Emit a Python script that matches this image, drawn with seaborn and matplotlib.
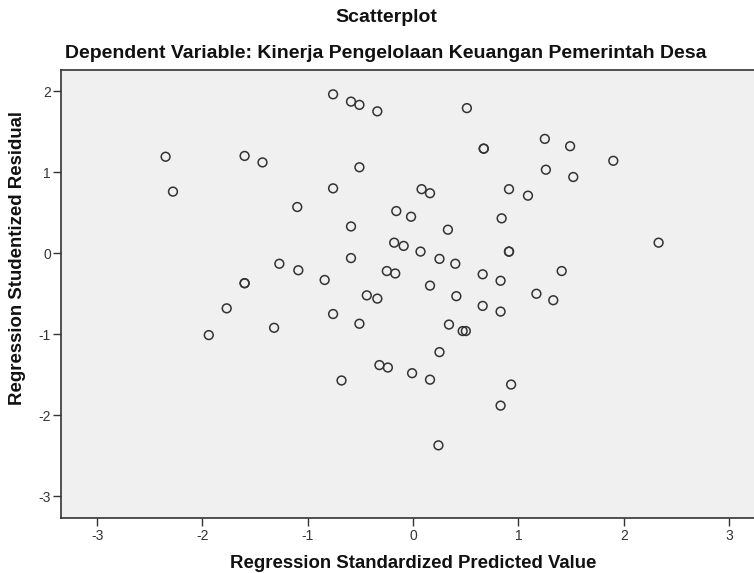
import matplotlib
matplotlib.use("Agg")
import matplotlib.pyplot as plt
import seaborn as sns
import pandas as pd

predicted = [-0.76, -0.59, -0.51, -0.34, -2.35, -1.60, -1.43, -0.51, -2.28, -0.76,
             -1.10, -0.16, -0.02, -0.59, -0.18, -0.09, -0.59, -1.27, -1.09, -0.84,
             -0.25, -0.17, -1.60, -1.60, 0.51, 0.67, 0.67, 1.25, 1.49, 1.90,
             1.26, 1.52, 0.08, 0.16, 0.91, 1.09, 0.84, 0.33, 0.07, 0.91,
             0.91, 2.33, 0.25, 0.40, 0.66, 0.83, 1.41, 0.16, -1.77, -1.94,
             -1.32, -0.44, -0.34, -0.76, -0.51, -0.32, -0.24, -0.68, 0.41, 0.66,
             0.83, 1.17, 1.33, 0.34, 0.47, 0.50, 0.25, -0.01, 0.16, 0.93,
             0.83, 0.24]
residual = [1.96, 1.87, 1.83, 1.75, 1.19, 1.20, 1.12, 1.06, 0.76, 0.80,
            0.57, 0.52, 0.45, 0.33, 0.13, 0.09, -0.06, -0.13, -0.21, -0.33,
            -0.22, -0.25, -0.37, -0.37, 1.79, 1.29, 1.29, 1.41, 1.32, 1.14,
            1.03, 0.94, 0.79, 0.74, 0.79, 0.71, 0.43, 0.29, 0.02, 0.02,
            0.02, 0.13, -0.07, -0.13, -0.26, -0.34, -0.22, -0.40, -0.68, -1.01,
            -0.92, -0.52, -0.56, -0.75, -0.87, -1.38, -1.41, -1.57, -0.53, -0.65,
            -0.72, -0.50, -0.58, -0.88, -0.96, -0.96, -1.22, -1.48, -1.56, -1.62,
            -1.88, -2.37]

xticks = [-3, -2, -1, 0, 1, 2, 3]
yticks = [-3, -2, -1, 0, 1, 2]
title = "Scatterplot"
subtitle = "Dependent Variable: Kinerja Pengelolaan Keuangan Pemerintah Desa"
xlabel = "Regression Standardized Predicted Value"
ylabel = "Regression Studentized Residual"

df = pd.DataFrame({"pred": predicted, "resid": residual})

sns.set_theme(style="white")
plt.rcParams["font.family"] = ["Liberation Sans", "DejaVu Sans"]

fig = plt.figure(figsize=(7.54, 5.73), dpi=100)
L, R, T, B = 61.3, 765.0, 70.0, 518.3
ax = fig.add_axes([L / 754, (573 - B) / 573, (R - L) / 754, (B - T) / 573])
ax.set_facecolor("#F0F0F0")

sns.scatterplot(data=df, x="pred", y="resid", ax=ax, marker="o", s=40,
                facecolor="none", edgecolor="#333333", linewidth=1.1, legend=False)

ax.set_xticks(xticks)
ax.set_yticks(yticks)
ax.set_xticklabels([str(t) for t in xticks])
ax.set_yticklabels([str(t) for t in yticks])
ax.set_xlim(-3.34, 3.34)
ax.set_ylim(-3.27, 2.26)
ax.tick_params(axis="both", which="both", direction="out", length=6, width=1,
               color="#333333", labelsize=10, labelcolor="#333333", pad=1.5,
               bottom=True, left=True)
for sp in ax.spines.values():
    sp.set_color("#333333")
    sp.set_linewidth(1.2)
    sp.set_visible(True)

ax.set_xlabel(xlabel, fontsize=13.4, fontweight="bold", color="#111111")
ax.set_ylabel(ylabel, fontsize=13.4, fontweight="bold", color="#111111")
ax.xaxis.label.set_va("center")
ax.yaxis.label.set_va("center")
ax.xaxis.set_label_coords((413 - L) / (R - L), -(563 - B) / (B - T))
ax.yaxis.set_label_coords((18 - L) / (R - L), (B - 258) / (B - T))

fig.text(386 / 754, 1 - 18 / 573, title, ha="center", va="center",
         fontsize=14, fontweight="bold", color="#111111")
fig.text(386 / 754, 1 - 54 / 573, subtitle, ha="center", va="center",
         fontsize=14, fontweight="bold", color="#111111")

fig.savefig("out.png", dpi=100, facecolor="white")
